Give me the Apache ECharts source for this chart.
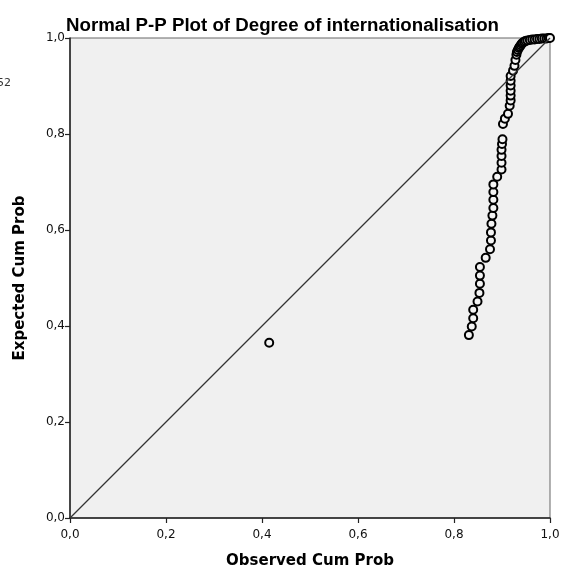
<!DOCTYPE html>
<html>
<head>
<meta charset="utf-8">
<script src="https://cdn.jsdelivr.net/npm/echarts@6/dist/echarts.min.js"></script>
<style>
html,body{margin:0;padding:0;background:#fff;}
#chart{width:563px;height:574px;}
</style>
</head>
<body>
<div id="chart"></div>
<script>
var titleText = "Normal P-P Plot of Degree of internationalisation";
var xAxisName = "Observed Cum Prob";
var yAxisName = "Expected Cum Prob";
var tickValues = [0, 0.2, 0.4, 0.6, 0.8, 1.0];

var observedCumProb = [
  0.415,
  0.831, 0.837, 0.840, 0.840, 0.849, 0.853, 0.854, 0.854, 0.854, 0.866,
  0.875, 0.877, 0.877, 0.878, 0.880, 0.882, 0.882, 0.882, 0.882, 0.890,
  0.899, 0.899, 0.899, 0.899, 0.900, 0.901,
  0.902, 0.906, 0.9125, 0.916, 0.918, 0.918, 0.918, 0.918, 0.918, 0.918,
  0.923, 0.926, 0.928, 0.930,
  0.931, 0.933, 0.935, 0.937, 0.939, 0.941, 0.943, 0.946, 0.949, 0.953,
  0.958, 0.963, 0.968, 0.973, 0.978, 0.983, 0.988, 0.993, 0.997, 1.0
];
var expectedCumProb = [
  0.365,
  0.381, 0.399, 0.416, 0.434, 0.451, 0.469, 0.488, 0.505, 0.523, 0.542,
  0.560, 0.578, 0.595, 0.613, 0.630, 0.646, 0.663, 0.679, 0.695, 0.711,
  0.726, 0.740, 0.754, 0.767, 0.779, 0.789,
  0.821, 0.832, 0.842, 0.859, 0.870, 0.880, 0.890, 0.901, 0.911, 0.921,
  0.932, 0.942, 0.954, 0.965,
  0.971, 0.975, 0.979, 0.982, 0.985, 0.988, 0.990, 0.992, 0.994, 0.995,
  0.996, 0.997, 0.997, 0.998, 0.998, 0.999, 0.999, 0.999, 1.0, 1.0
];
var diagonalLine = [[0, 0], [1, 1]];
var sideNote = "52";

var points = observedCumProb.map(function (v, i) { return [v, expectedCumProb[i]]; });

function fmt(v) { return v.toFixed(1).replace('.', ','); }

var chart = echarts.init(document.getElementById('chart'), null, {renderer: 'canvas'});
var axisCommon = {
  type: 'value', min: 0, max: 1, interval: 0.2,
  nameLocation: 'middle',
  nameTextStyle: {fontFamily: 'DejaVu Sans', fontWeight: 'bold', fontSize: 15, color: '#000'},
  axisLine: {show: true, onZero: false, lineStyle: {color: '#222', width: 1.5}},
  axisTick: {show: true, inside: false, length: 5, lineStyle: {color: '#222', width: 1.2}},
  axisLabel: {formatter: fmt, fontFamily: 'DejaVu Sans', fontSize: 12, color: '#111'},
  splitLine: {show: false}
};
chart.setOption({
  animation: false,
  backgroundColor: '#fff',
  title: {
    text: titleText, left: 61, top: 11,
    textStyle: {fontFamily: 'Liberation Sans', fontWeight: 'bold', fontSize: 18.7, color: '#000'}
  },
  graphic: [{
    type: 'text', left: -3, top: 78,
    style: {text: sideNote, fontFamily: 'DejaVu Sans', fontSize: 11, fill: '#333'}
  }],
  grid: {
    left: 70, right: 13, top: 38, bottom: 55,
    show: true, backgroundColor: '#f0f0f0', borderColor: '#666', borderWidth: 1
  },
  xAxis: Object.assign({}, axisCommon, {name: xAxisName, nameGap: 36,
    axisLabel: Object.assign({}, axisCommon.axisLabel, {margin: 11})}),
  yAxis: Object.assign({}, axisCommon, {name: yAxisName, nameGap: 42,
    axisLabel: Object.assign({}, axisCommon.axisLabel, {margin: 5})}),
  series: [
    {
      type: 'line', data: diagonalLine, symbol: 'none', silent: true,
      lineStyle: {color: '#333', width: 1.3}
    },
    {
      type: 'scatter', data: points, symbol: 'circle', symbolSize: 8,
      itemStyle: {color: '#f4f4f4', borderColor: '#000', borderWidth: 2, opacity: 1}
    }
  ]
});
</script>
</body>
</html>
